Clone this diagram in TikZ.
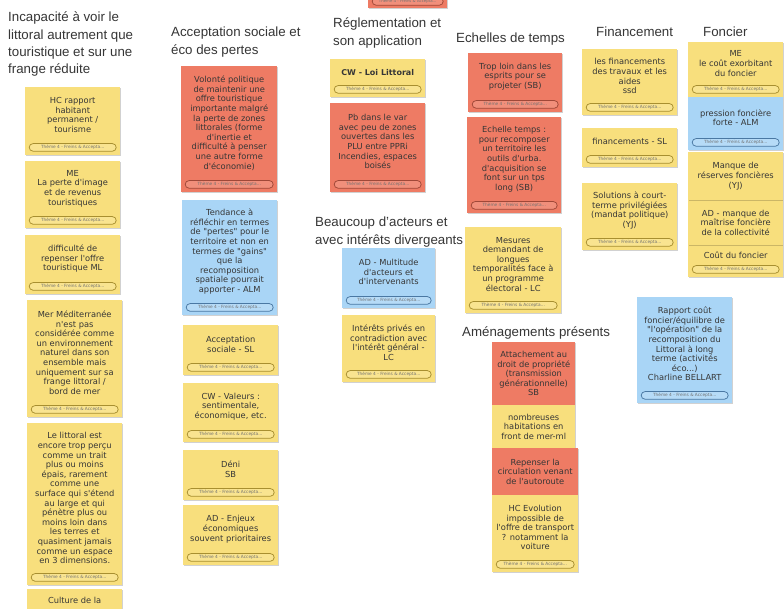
\documentclass[tikz,border=0pt]{standalone}
\usepackage{fontspec}
\setmainfont{Liberation Sans}
\newfontfamily\notefont{DejaVu Sans}
\usetikzlibrary{shadows,calc}

\definecolor{noteY}{HTML}{F8DF7D}
\definecolor{noteR}{HTML}{EE7B64}
\definecolor{noteB}{HTML}{A9D5F6}
\definecolor{tagY}{HTML}{A88F30}
\definecolor{tagR}{HTML}{A04838}
\definecolor{tagB}{HTML}{4A78A3}
\definecolor{ink}{HTML}{363636}

\tikzset{
  notebox/.style={anchor=north west, inner sep=0, draw=none,
    drop shadow={shadow xshift=0.8pt, shadow yshift=-0.8pt, opacity=0.18, fill=black}},
  notetxt/.style={align=center, inner sep=0, text=ink,
    font=\notefont\fontsize{8.3}{9.6}\selectfont},
  notebold/.style={font=\notefont\bfseries\fontsize{8}{9.6}\selectfont},
  tagbox/.style={rounded corners=3.8pt, line width=0.75pt, inner sep=0,
    minimum height=7.6pt, font=\notefont\fontsize{4.3}{5}\selectfont, text=ink!70},
  title/.style={anchor=north west, inner sep=0, align=left, text=ink,
    font=\fontsize{13.3}{17.2}\selectfont},
}

% note with tag: [text style]{name}{x}{y}{w}{h}{colour}{text}
\newcommand{\tnote}[8][]{%
  \node[notebox, fill=note#7, minimum width=#5pt, minimum height=#6pt] (#2) at (#3,#4) {};
  \node[tagbox, draw=tag#7, fill=note#7!85!white, minimum width=#5pt-8pt]
    (#2-tag) at ($(#2.south)+(0,-8)$) {Thème 4 - Freins \& Accepta...};
  \node[notetxt, #1] (#2-txt) at ($(#2.north)!0.5!(#2-tag.north)$) {#8};
}
% note without tag
\newcommand{\pnote}[8][]{%
  \node[notebox, fill=note#7, minimum width=#5pt, minimum height=#6pt] (#2) at (#3,#4) {};
  \node[notetxt, #1] (#2-txt) at (#2.center) {#8};
}

\begin{document}
\begin{tikzpicture}[x=1pt,y=-1pt]
\useasboundingbox (0,0) rectangle (784,609);
\clip (0,0) rectangle (784,609);
\fill[white] (0,0) rectangle (784,609);

% ---------- titles ----------
\node[title] (t1) at (8,12) {Incapacité à voir le\\littoral autrement que\\touristique et sur une\\frange réduite};
\node[title] (t2) at (171,27) {Acceptation sociale et\\éco des pertes};
\node[title] (t3) at (333,18) {Réglementation et\\son application};
\node[title] (t4) at (315,217) {Beaucoup d'acteurs et\\avec intérêts divergeants};
\node[title] (t5) at (456,33) {Echelles de temps};
\node[title] (t6) at (462,327) {Aménagements présents};
\node[title] (t7) at (596,27) {Financement};
\node[title] (t8) at (703,27) {Foncier};

% ---------- column 1 ----------
\tnote{c11}{25}{87}{95}{68}{Y}{HC rapport\\habitant\\permanent /\\tourisme}
\tnote{c12}{25}{161}{95}{67}{Y}{ME\\La perte d'image\\et de revenus\\touristiques}
\tnote{c13}{25}{235}{95}{59}{Y}{difficulté de\\repenser l'offre\\touristique ML}
\tnote{c14}{27}{300}{95}{117}{Y}{Mer Méditerranée\\n'est pas\\considérée comme\\un environnement\\naturel dans son\\ensemble mais\\uniquement sur sa\\frange littoral /\\bord de mer}
\tnote{c15}{27}{423}{95}{162}{Y}{Le littoral est\\encore trop perçu\\comme un trait\\plus ou moins\\épais, rarement\\comme une\\surface qui s'étend\\au large et qui\\pénètre plus ou\\moins loin dans\\les terres et\\quasiment jamais\\comme un espace\\en 3 dimensions.}
\node[notebox, fill=noteY, minimum width=95pt, minimum height=60pt] (c16) at (27,589) {};
\node[notetxt, anchor=north] (c16-txt) at ($(c16.north)+(0,8)$) {Culture de la};

% ---------- column 2 ----------
\tnote{c21}{181}{66}{96}{126}{R}{Volonté politique\\de maintenir une\\offre touristique\\importante malgré\\la perte de zones\\littorales (forme\\d'inertie et\\difficulté à penser\\une autre forme\\d'économie)}
\tnote{c22}{182}{200}{95}{115}{B}{Tendance à\\réfléchir en termes\\de "pertes" pour le\\territoire et non en\\termes de "gains"\\que la\\recomposition\\spatiale pourrait\\apporter - ALM}
\tnote{c23}{183}{325}{95}{50}{Y}{Acceptation\\sociale - SL}
\tnote{c24}{183}{383}{95}{59}{Y}{CW - Valeurs :\\sentimentale,\\économique, etc.}
\tnote{c25}{183}{450}{95}{50}{Y}{Déni\\SB}
\tnote{c26}{183}{505}{95}{60}{Y}{AD - Enjeux\\économiques\\souvent prioritaires}

% ---------- column 3 ----------
\node[notebox, fill=noteR, minimum width=79pt, minimum height=30pt] (c30) at (368,-22) {};
\node[tagbox, draw=tagR, fill=noteR!85!white, minimum width=71pt, font=\notefont\fontsize{3.9}{5}\selectfont] (c30-tag) at ($(c30.south)+(0,-7)$) {Thème 4 - Freins \& Accepta...};
\tnote[notebold]{c31}{330}{59}{95}{38}{Y}{CW - Loi Littoral}
\tnote{c32}{330}{103}{95}{89}{R}{Pb dans le var\\avec peu de zones\\ouvertes dans les\\PLU entre PPRi\\Incendies, espaces\\boisés}
\tnote{c33}{342}{248}{93}{60}{B}{AD - Multitude\\d'acteurs et\\d'intervenants}
\tnote{c34}{342}{315}{93}{67}{Y}{Intérêts privés en\\contradiction avec\\l'intérêt général -\\LC}

% ---------- column 4 ----------
\tnote{c41}{468}{53}{94}{59}{R}{Trop loin dans les\\esprits pour se\\projeter (SB)}
\tnote{c42}{467}{117}{94}{96}{R}{Echelle temps :\\pour recomposer\\un territoire les\\outils d'urba.\\d'acquisition se\\font sur un tps\\long (SB)}
\tnote{c43}{465}{227}{96}{86}{Y}{Mesures\\demandant de\\longues\\temporalités face à\\un programme\\électoral - LC}
\pnote{c44}{492}{342}{83}{63}{R}{Attachement au\\droit de propriété\\(transmission\\générationnelle)\\SB}
\pnote{c45}{492}{405}{83}{43}{Y}{nombreuses\\habitations en\\front de mer-ml}
\pnote{c46}{492}{448}{86}{47}{R}{Repenser la\\circulation venant\\de l'autoroute}
\tnote{c47}{492}{495}{86}{77}{Y}{HC Evolution\\impossible de\\l'offre de transport\\? notamment la\\voiture}

% ---------- column 5 ----------
\tnote{c51}{582}{49}{95}{66}{Y}{les financements\\des travaux et les\\aides\\ssd}
\tnote{c52}{582}{128}{95}{39}{Y}{financements - SL}
\tnote{c53}{582}{183}{95}{67}{Y}{Solutions à court-\\terme privilégiées\\(mandat politique)\\(YJ)}

% ---------- column 6 ----------
\tnote{c61}{688}{42}{95}{55}{Y}{ME\\le coût exorbitant\\du foncier}
\tnote{c62}{688}{97}{95}{53}{B}{pression foncière\\forte - ALM}
\tnote{c65}{688}{245}{95}{32}{Y}{Coût du foncier}
\pnote{c64}{688}{200}{95}{45}{Y}{AD - manque de\\maîtrise foncière\\de la collectivité}
\pnote{c63}{688}{152}{95}{48}{Y}{Manque de\\réserves foncières\\(YJ)}
\tnote{c66}{637}{297}{95}{106}{B}{Rapport coût\\foncier/équilibre de\\"l'opération" de la\\recomposition du\\Littoral à long\\terme (activités\\éco...)\\Charline BELLART}
\end{tikzpicture}
\end{document}
